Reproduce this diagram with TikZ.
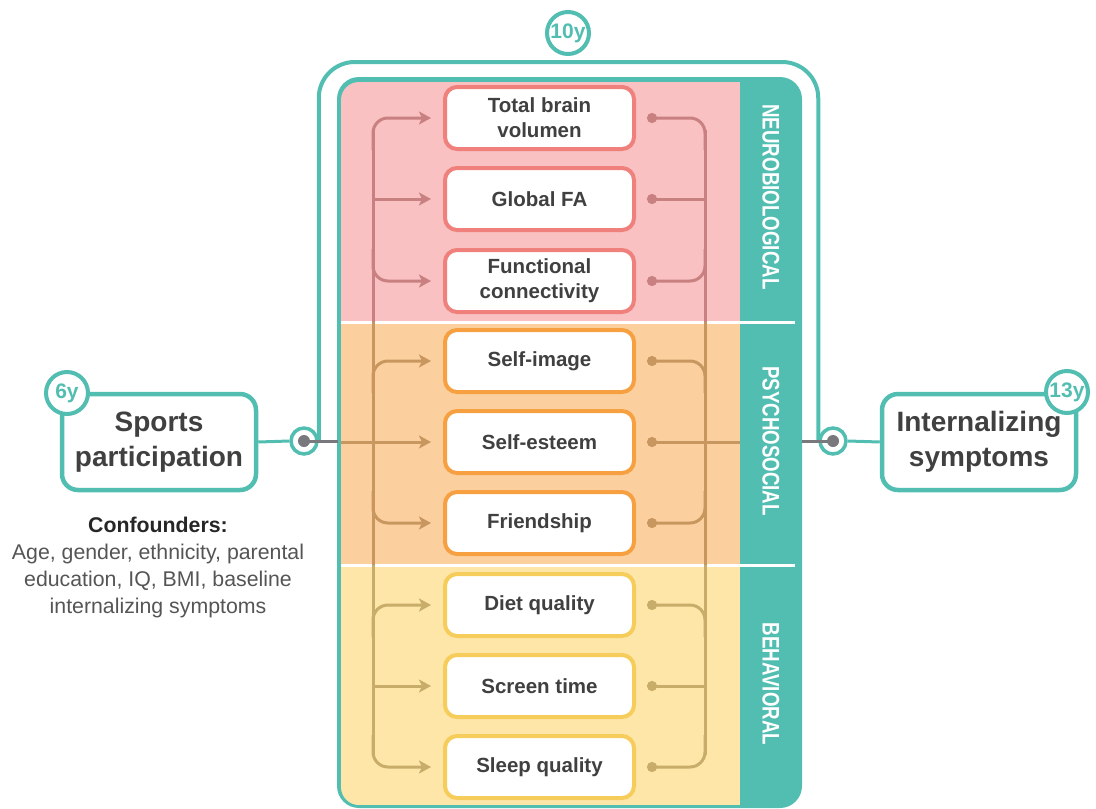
\documentclass[tikz,border=0pt]{standalone}
\usepackage{fontspec}
\setmainfont{Liberation Sans}
\usetikzlibrary{arrows.meta}
\definecolor{teal1}{RGB}{82,190,178}
\definecolor{bgpink}{RGB}{249,193,193}
\definecolor{bgorange}{RGB}{252,208,158}
\definecolor{bgyellow}{RGB}{253,230,168}
\definecolor{bdpink}{RGB}{239,128,124}
\definecolor{bdorange}{RGB}{246,160,66}
\definecolor{bdyellow}{RGB}{246,205,90}
\definecolor{lnpink}{RGB}{200,128,128}
\definecolor{lnorange}{RGB}{200,150,95}
\definecolor{lnyellow}{RGB}{200,172,105}
\definecolor{txt}{RGB}{64,64,64}
\definecolor{conftxt}{RGB}{85,85,85}
\definecolor{dotgray}{RGB}{120,120,125}
\pgfdeclarelayer{bg}
\pgfsetlayers{bg,main}
\begin{document}
\begin{tikzpicture}[x=1pt,y=-1pt,
 itembox/.style={draw=#1, line width=4pt, fill=white, rounded corners=12pt, minimum width=189pt, minimum height=62pt, align=center, text=txt, font=\fontsize{20.5}{25}\selectfont\bfseries, inner sep=0pt},
 mainbox/.style={draw=teal1, line width=4.5pt, fill=white, rounded corners=16pt, minimum width=194pt, minimum height=96pt, align=center, text=txt, font=\fontsize{28}{35}\selectfont\bfseries, inner sep=0pt},
 badge/.style={circle, draw=teal1, line width=4pt, fill=white, minimum size=42pt, inner sep=0pt, text=teal1, font=\fontsize{21}{21}\selectfont\bfseries},
 joint/.style={circle, draw=teal1, line width=3.5pt, fill=white, minimum size=26pt, inner sep=0pt},
 arr/.style={line width=3pt, draw=#1, -{Stealth[length=12pt,width=13pt,inset=3pt]}, rounded corners=15pt, shorten >=12pt},
 lnk/.style={line width=3pt, draw=#1, {Circle[length=10pt]}-, rounded corners=15pt, shorten <=11pt},
 vline/.style={line width=3pt, draw=#1},
 strip/.style={text=white, rotate=-90, font=\fontsize{24}{24}\selectfont\bfseries, inner sep=0pt},
 teal line/.style={draw=teal1, line width=4pt},
]
\useasboundingbox (0,0) rectangle (1096,809);

% inner panel
\fill[teal1, rounded corners=22pt] (337,77) rectangle (802,808);
\begin{scope}
\clip[rounded corners=18pt] (341,82) rectangle (798,805);
\fill[bgpink] (341,82) rectangle (740,322);
\fill[bgorange] (341,322) rectangle (740,565);
\fill[bgyellow] (341,565) rectangle (740,805);
\end{scope}
\draw[white, line width=3pt] (341,322) -- (795,322);
\draw[white, line width=3pt] (341,565) -- (795,565);
\node[strip] (s1) at (771,197) {\scalebox{0.78}[1]{NEUROBIOLOGICAL}};
\node[strip] (s2) at (771,441) {\scalebox{0.78}[1]{PSYCHOSOCIAL}};
\node[strip] (s3) at (771,684) {\scalebox{0.78}[1]{BEHAVIORAL}};

% item boxes
\node[itembox=bdpink] (b1) at (539.5,118) {Total brain\\volumen};
\node[itembox=bdpink] (b2) at (539.5,199) {Global FA};
\node[itembox=bdpink] (b3) at (539.5,281) {Functional\\connectivity};
\node[itembox=bdorange] (b4) at (539.5,361) {Self-image};
\node[itembox=bdorange] (b5) at (539.5,442) {Self-esteem};
\node[itembox=bdorange] (b6) at (539.5,523) {Friendship};
\node[itembox=bdyellow] (b7) at (539.5,605) {Diet quality};
\node[itembox=bdyellow] (b8) at (539.5,686) {Screen time};
\node[itembox=bdyellow] (b9) at (539.5,767) {Sleep quality};

% left vertical distribution line
\coordinate (L0) at (373,130);
\coordinate (L1) at (373,322);
\coordinate (L2) at (373,565);
\coordinate (L3) at (373,755);
\draw[vline=lnpink] (L0) -- (L1);
\draw[vline=lnorange] (L1) -- (L2);
\draw[vline=lnyellow] (L2) -- (L3);
% right vertical collecting line
\coordinate (R0) at (705,130);
\coordinate (R1) at (705,322);
\coordinate (R2) at (705,565);
\coordinate (R3) at (705,755);
\draw[vline=lnpink] (R0) -- (R1);
\draw[vline=lnorange] (R1) -- (R2);
\draw[vline=lnyellow] (R2) -- (R3);

% left arrows
\coordinate (a1) at (373,150); \coordinate (a2) at (373,199); \coordinate (a3) at (373,249);
\coordinate (a4) at (373,393); \coordinate (a5) at (341,442); \coordinate (a6) at (373,491);
\coordinate (a7) at (373,637); \coordinate (a8) at (373,686); \coordinate (a9) at (373,735);
\draw[arr=lnpink] (a1) |- (b1.west);
\draw[arr=lnpink] (a2) -- (b2.west);
\draw[arr=lnpink] (a3) |- (b3.west);
\draw[arr=lnorange] (a4) |- (b4.west);
\draw[arr=lnorange] (a5) -- (b5.west);
\draw[arr=lnorange] (a6) |- (b6.west);
\draw[arr=lnyellow] (a7) |- (b7.west);
\draw[arr=lnyellow] (a8) -- (b8.west);
\draw[arr=lnyellow] (a9) |- (b9.west);

% right links
\coordinate (r1) at (705,150); \coordinate (r2) at (705,199); \coordinate (r3) at (705,249);
\coordinate (r4) at (705,393); \coordinate (r5) at (740,442); \coordinate (r6) at (705,491);
\coordinate (r7) at (705,637); \coordinate (r8) at (705,686); \coordinate (r9) at (705,735);
\draw[lnk=lnpink] (b1.east) -| (r1);
\draw[lnk=lnpink] (b2.east) -- (r2);
\draw[lnk=lnpink] (b3.east) -| (r3);
\draw[lnk=lnorange] (b4.east) -| (r4);
\draw[lnk=lnorange] (b5.east) -- (r5);
\draw[lnk=lnorange] (b6.east) -| (r6);
\draw[lnk=lnyellow] (b7.east) -| (r7);
\draw[lnk=lnyellow] (b8.east) -- (r8);
\draw[lnk=lnyellow] (b9.east) -| (r9);

% main boxes
\node[mainbox] (sp) at (159,442) {Sports\\participation};
\node[mainbox] (is) at (979,442) {Internalizing\\symptoms};
\node[badge] (y6) at (67,393) {6y};
\node[badge] (y13) at (1067,392) {13y};
\node[badge] (y10) at (568,33) {10y};

% joints
\node[joint] (lc) at (304,441) {};
\node[joint] (rc) at (833,441) {};
\coordinate (pl) at (338,441);
\coordinate (pr) at (802,441);
\draw[teal line, line width=3pt] (sp.east) -- (lc.west);
\draw[teal line, line width=3pt] (rc.east) -- (is.west);
\draw[dotgray, line width=3pt] (lc.center) -- (pl);
\draw[dotgray, line width=3pt] (pr) -- (rc.center);
\fill[dotgray] (lc.center) circle (6pt);
\fill[dotgray] (rc.center) circle (6pt);

% outer frame
\begin{pgfonlayer}{bg}
\draw[teal line, rounded corners=36pt] (lc.east) -- (lc.east |- 0,62) -- (rc.west |- 0,62) -- (rc.west);
\end{pgfonlayer}

% confounders
\node[align=center, text=conftxt, font=\fontsize{21.3}{27}\selectfont, inner sep=0pt] (conf) at (158,567)
 {{\bfseries\color{black!85}Confounders:}\\Age, gender, ethnicity, parental\\education, IQ, BMI, baseline\\internalizing symptoms};
\end{tikzpicture}
\end{document}
